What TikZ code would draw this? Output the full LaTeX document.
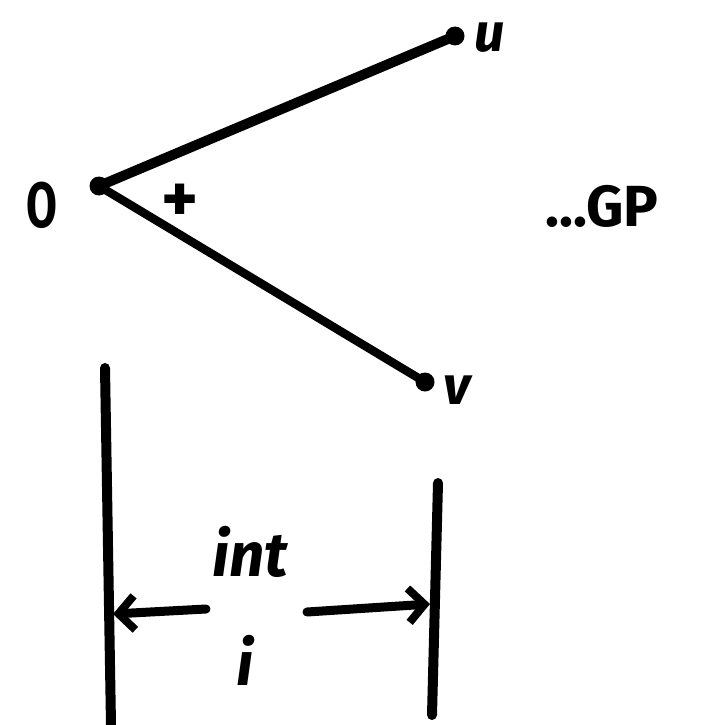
\documentclass[tikz,border=0pt]{standalone}
\usepackage{fontspec}
\setmainfont{Fira Sans}
\usetikzlibrary{arrows.meta}
\begin{document}
\begin{tikzpicture}[x=1pt,y=-1pt,
  stroke/.style={line width=10pt,line cap=round,black},
  thin stroke/.style={line width=8.5pt,line cap=round,black},
  dotpt/.style={circle,fill=black,inner sep=0pt,minimum size=19pt},
  lbl/.style={font=\fontsize{58}{62}\selectfont\bfseries,inner sep=0pt},
  slbl/.style={font=\fontsize{54}{58}\selectfont\bfseries\itshape,inner sep=0pt},
  arr/.style={line width=9pt,line cap=round,-{Straight Barb[length=16pt,width=34pt,line width=8pt]}}]
\useasboundingbox (0,0) rectangle (712,725);
\node[dotpt] (O) at (99,186) {};
\node[dotpt] (u) at (455,36) {};
\node[dotpt] (v) at (425,382) {};
\draw[stroke] (O.center) -- (u.center);
\draw[thin stroke] (O.center) -- (v.center);
\node[font=\fontsize{64}{68}\selectfont\bfseries,inner sep=0pt,xscale=0.7] (Ol) at (42,205) {O};
\node[slbl] (ul) at (490,38) {u};
\node[slbl] (vl) at (457,390) {v};
\node[font=\fontsize{70}{74}\selectfont\bfseries,inner sep=0pt] (plus) at (180,203) {+};
\node[lbl] (gp) at (602,206) {...GP};
\coordinate (L1) at (105,368);
\coordinate (L2) at (111,725);
\coordinate (R1) at (438,483);
\coordinate (R2) at (432,715);
\draw[stroke] (L1) -- (L2);
\draw[stroke] (R1) -- (R2);
\coordinate (al) at (206,609);
\coordinate (ar) at (307,612);
\draw[arr] (al) -- (113,614);
\draw[arr] (ar) -- (430,604);
\node[font=\fontsize{62}{66}\selectfont\bfseries\itshape,inner sep=0pt] (int) at (250,552) {int};
\node[font=\fontsize{62}{66}\selectfont\bfseries\itshape,inner sep=0pt] (i) at (245,660) {i};
\end{tikzpicture}
\end{document}
